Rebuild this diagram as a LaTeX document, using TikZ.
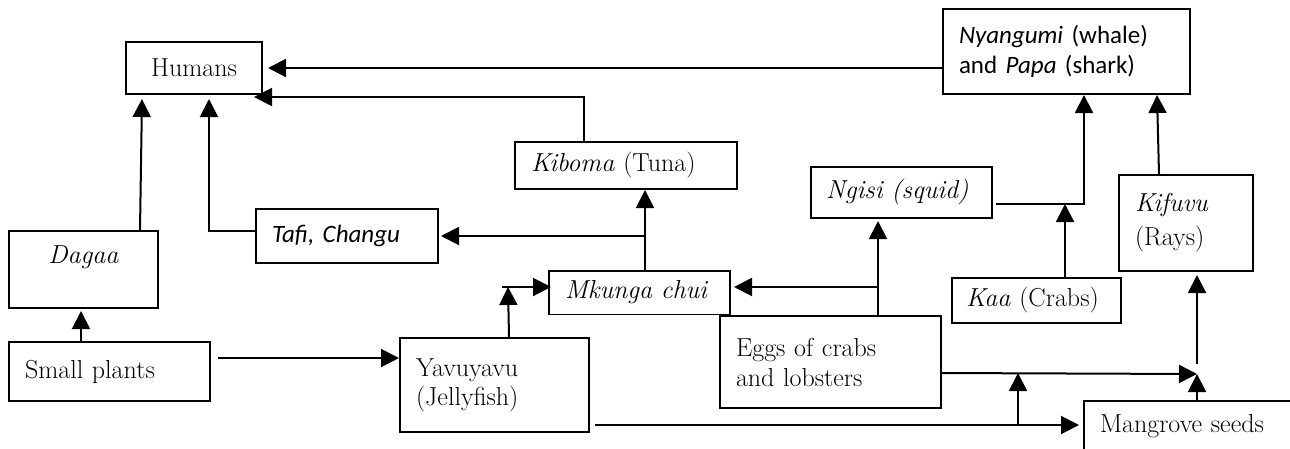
\documentclass[tikz,border=0pt]{standalone}
\usepackage{fontspec}
\setsansfont{Carlito}
\usetikzlibrary{arrows.meta}

\tikzset{
  box/.style={draw, line width=2pt, rectangle, inner xsep=16pt, inner ysep=0pt,
    align=left, font=\fontsize{26}{30}\selectfont},
  arr/.style={-{Triangle[length=18pt,width=18pt]}, line width=2pt},
}

\begin{document}
\begin{tikzpicture}[x=1pt, y=-1pt]
      \useasboundingbox (0,0) rectangle (1290,448);
      \clip (0,0) rectangle (1290,448);
      % boxes, placed at pixel centres
      \node[box, align=center, text width=104pt, minimum height=52pt] (humans) at (194,68) {Humans};
      \node[box, text width=215pt, minimum height=85pt, font=\fontsize{25}{30}\sffamily] (nyang) at (1066.5,51.5)
        {\textit{Nyangumi} (whale)\\and \textit{Papa} (shark)};
      \node[box, text width=190pt, minimum height=47pt] (kiboma) at (626,165.5) {\textit{Kiboma} (Tuna)};
      \node[box, text width=151pt, minimum height=51pt, inner xsep=15pt] (ngisi) at (901.5,192.5) {\textit{Ngisi (squid)}};
      \node[box, text width=150pt, minimum height=54pt, font=\fontsize{25}{30}\sffamily\itshape] (tafi) at (347,236) {Tafi, Changu};
      \node[box, text width=102pt, minimum height=96pt, font=\fontsize{26}{34}\selectfont] (kifuvu) at (1186,223) {\textit{Kifuvu}\\(Rays)};
      \node[box, align=center, text width=117pt, minimum height=77pt] (dagaa) at (83.5,269.5) {\textit{Dagaa}\\\mbox{}};
      \node[box, text width=149pt, minimum height=43pt] (mkunga) at (639.5,292.5) {\textit{Mkunga chui}};
      \node[box, text width=141pt, minimum height=45pt, inner xsep=14pt] (kaa) at (1036.5,300.5) {\textit{Kaa} (Crabs)};
      \node[box, text width=189pt, minimum height=92pt] (eggs) at (830.5,362) {Eggs of crabs\\and lobsters};
      \node[box, text width=169pt, minimum height=59pt] (plants) at (109.5,371.5) {Small plants};
      \node[box, text width=157pt, minimum height=94pt, font=\fontsize{26}{29}\selectfont] (yavu) at (494.5,385) {Yavuyavu\\(Jellyfish)};
      \node[box, text width=184pt, minimum height=50pt] (mangrove) at (1192,426) {Mangrove seeds};
      % bottom of Mkunga chui is cut off
      \fill[white] ([xshift=2pt,yshift=1pt]mkunga.south west) rectangle ([xshift=-2pt,yshift=11pt]mkunga.south east);

      \coordinate (j1) at ([xshift=-40pt,yshift=5.5pt]mkunga.west);
      \coordinate (j2) at ([xshift=3pt,yshift=-11.5pt]ngisi.east);
      \coordinate (j3) at ([xshift=5pt,yshift=26pt]mangrove.north);
      \coordinate (e2) at ([xshift=-2pt,yshift=-11pt]eggs.east);
      \begin{scope}[arr]
        \draw (nyang.west |- humans.east) -- ([xshift=5pt]humans.east);
        \draw ([xshift=-42pt]kiboma.north) |- ([xshift=-9pt,yshift=-2pt]humans.south east);
        \draw ([xshift=5.5pt]mkunga.north) coordinate (mk) -- (mk |- kiboma.south);
        \draw (mk |- tafi.east) -- ([xshift=2pt]tafi.east);
        \draw ([yshift=5pt]tafi.west) -| ([xshift=15pt,yshift=-4pt]humans.south);
        \draw ([xshift=56.5pt]dagaa.north) -- ([xshift=-52pt,yshift=-4pt]humans.south);
        \draw ([xshift=-28.5pt]plants.north) -- ([xshift=-2.5pt,yshift=-2pt]dagaa.south);
        \draw ([xshift=7pt,yshift=13.5pt]plants.east) coordinate (p1) -- (p1 -| yavu.west);
        \draw ([xshift=14.5pt]yavu.north) -- (j1);
        \draw ([xshift=-6pt]j1) -- ([xshift=3pt,yshift=5.5pt]mkunga.west);
        \draw ([xshift=47.5pt]eggs.north) coordinate (e1) -- ([yshift=-2pt]e1 |- ngisi.south);
        \draw (e1 |- j1) -- ([xshift=3pt,yshift=5.5pt]mkunga.east);
        \draw (j2) -| ([xshift=17.5pt]nyang.south);
        \draw ([xshift=28.5pt]kaa.north) coordinate (k1) -- (k1 |- j2);
        \draw ([xshift=-27pt]kifuvu.north) -- ([xshift=90.5pt]nyang.south);
        \draw ([xshift=5pt]mangrove.north) -- (j3);
        \draw ([yshift=10pt]j3) -- ([yshift=-3pt]j3 |- kifuvu.south);
        \draw (e2) -- (j3);
        \draw ([xshift=5pt,yshift=-40pt]yavu.east) coordinate (y1) -- ([xshift=-4pt]y1 -| mangrove.west);
        \draw ([xshift=423pt]y1) coordinate (y3) -- (y3 |- e2);
      \end{scope}
\end{tikzpicture}
\end{document}
